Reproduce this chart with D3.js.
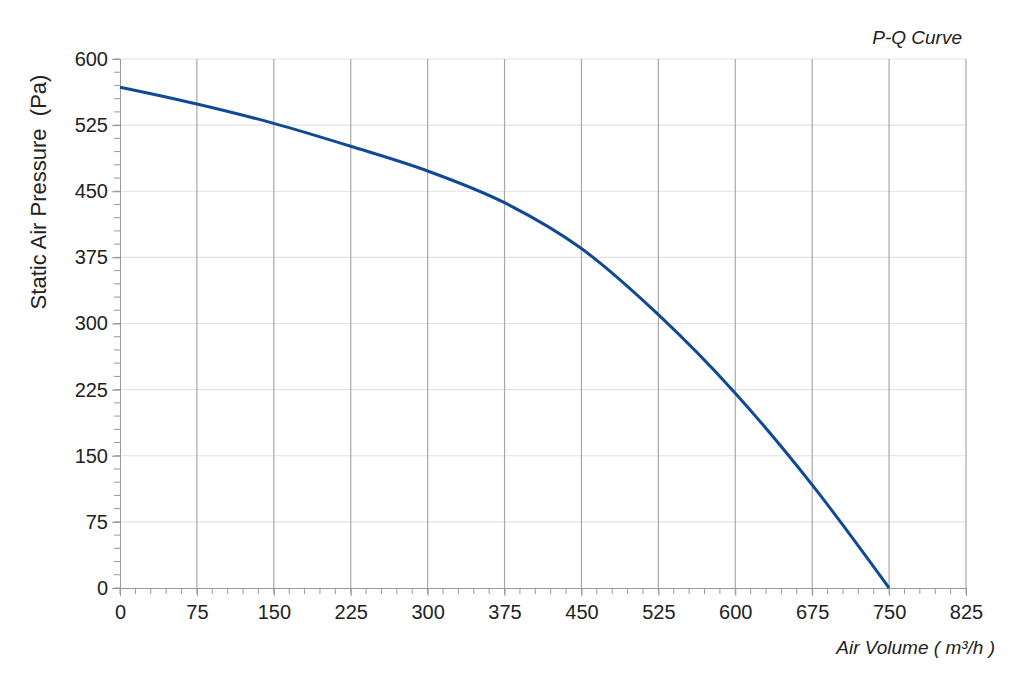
<!DOCTYPE html>
<html><head><meta charset="utf-8">
<script src="https://cdn.jsdelivr.net/npm/d3@7"></script>
<style>body{margin:0;background:#fff;font-family:Arial,"Liberation Sans",sans-serif}</style>
</head><body><div id="chart-area"></div>
<script>
// P-Q curve readings
const airVolume = [0, 75, 150, 225, 300, 375, 450, 525, 600, 675, 750];
const pressure = [568, 549, 527, 501, 473, 437, 385, 310, 221, 117, 0];
const xTicks = [0, 75, 150, 225, 300, 375, 450, 525, 600, 675, 750, 825];
const yTicks = [0, 75, 150, 225, 300, 375, 450, 525, 600];

const margin = {left: 120, right: 58, top: 59, bottom: 95};
const width = 1024 - margin.left - margin.right;
const height = 683 - margin.top - margin.bottom;

const svg = d3.select("#chart-area").append("svg")
    .attr("width", 1024).attr("height", 683);
const g = svg.append("g")
    .attr("transform", "translate(" + margin.left + "," + margin.top + ")");

const x = d3.scaleLinear().domain([0, 825]).range([0, width]);
const y = d3.scaleLinear().domain([0, 600]).range([height, 0]);

// grid
g.selectAll(".hgrid").data(yTicks.slice(1)).enter().append("line")
    .attr("x1", 0).attr("x2", width)
    .attr("y1", d => y(d)).attr("y2", d => y(d))
    .attr("stroke", "#e2e2e2").attr("stroke-width", 1.2);
g.selectAll(".vgrid").data(xTicks.slice(1)).enter().append("line")
    .attr("x1", d => x(d)).attr("x2", d => x(d))
    .attr("y1", 0).attr("y2", height)
    .attr("stroke", "#a8a8a8").attr("stroke-width", 1.2);

// minor ticks
g.selectAll(".ymin").data(d3.range(0, 601, 15)).enter().append("line")
    .attr("x1", -6).attr("x2", 0)
    .attr("y1", d => y(d)).attr("y2", d => y(d))
    .attr("stroke", "#999");
g.selectAll(".xmin").data(d3.range(0, 826, 15)).enter().append("line")
    .attr("y1", height).attr("y2", height + 6)
    .attr("x1", d => x(d)).attr("x2", d => x(d))
    .attr("stroke", "#999");

// axes
const xAxis = g.append("g").attr("transform", "translate(0," + height + ")")
    .call(d3.axisBottom(x).tickValues(xTicks).tickSize(8));
const yAxis = g.append("g")
    .call(d3.axisLeft(y).tickValues(yTicks).tickSize(8));
[xAxis, yAxis].forEach(a => {
    a.attr("font-size", null).attr("font-family", null);
    a.select(".domain").attr("stroke", "#999");
    a.selectAll(".tick line").attr("stroke", "#999");
    a.selectAll("text").style("font-size", "20px").attr("fill", "#222")
        .style("font-family", "Arial, 'Liberation Sans', sans-serif");
});
xAxis.selectAll("text").attr("dy", "1.0em");
yAxis.selectAll("text").attr("x", -12);

// curve
g.append("path")
    .datum(airVolume.map((v, i) => [v, pressure[i]]))
    .attr("fill", "none").attr("stroke", "#114a94").attr("stroke-width", 3)
    .attr("d", d3.line().x(d => x(d[0])).y(d => y(d[1])).curve(d3.curveMonotoneX));

// labels
svg.append("text").attr("transform", "translate(46,192) rotate(-90)")
    .attr("text-anchor", "middle").style("font-size", "22px").attr("fill", "#222")
    .attr("xml:space", "preserve").style("white-space", "pre")
    .text("Static Air Pressure  (Pa)");
svg.append("text").attr("x", 995).attr("y", 654).attr("text-anchor", "end")
    .style("font-size", "19px").attr("font-style", "italic").attr("fill", "#222")
    .text("Air Volume ( m³/h )");
svg.append("text").attr("x", 962).attr("y", 44).attr("text-anchor", "end")
    .style("font-size", "19px").attr("font-style", "italic").attr("fill", "#222")
    .text("P-Q Curve");
</script></body></html>
